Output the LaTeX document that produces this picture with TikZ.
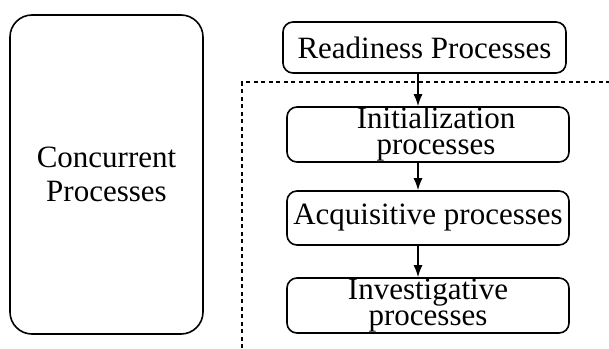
\documentclass[tikz,border=0pt]{standalone}
\usepackage{fontspec}
\setmainfont{Liberation Serif}
\usetikzlibrary{arrows.meta,positioning}

\tikzset{
  procbox/.style={draw, line width=1.6pt, rounded corners=10pt, minimum width=282pt,
    minimum height=54pt, inner sep=0pt, align=center, font=\fontsize{31}{26}\selectfont},
  flow/.style={-{Latex[length=12pt,width=9pt]}, line width=1.5pt},
  frame/.style={line width=1.4pt, dash pattern=on 4pt off 3.5pt}
}

\begin{document}
\begin{tikzpicture}[x=1pt,y=-1pt]
\useasboundingbox (0,0) rectangle (609,348);

% left block
\node[draw, line width=1.6pt, rounded corners=22pt, minimum width=193pt, minimum height=319pt,
  align=center, font=\fontsize{31}{34}\selectfont] (conc) at (106.5,174.5) {Concurrent\\Processes};

% process chain
\node[procbox, minimum width=283pt, minimum height=51pt] (ready) at (424.5,47.5) {Readiness Processes};
\node[procbox, minimum height=55pt] (init) at (428,134.5) {\hspace*{16pt}Initialization\\\hspace*{16pt}processes};
\node[procbox] (acq) at (428,218) {Acquisitive processes};
\node[procbox, minimum height=55pt] (inv) at (428,305.5) {Investigative\\processes};

% dotted frame
\draw[frame] (242,348) -- (242,82) -- (609,82);

\draw[flow] ([xshift=-10pt]init.north |- ready.south) -- ([xshift=-10pt]init.north);
\draw[flow] ([xshift=-10pt]init.south) -- ([xshift=-10pt]acq.north);
\draw[flow] ([xshift=-10pt]acq.south) -- ([xshift=-10pt]inv.north);
\end{tikzpicture}
\end{document}
